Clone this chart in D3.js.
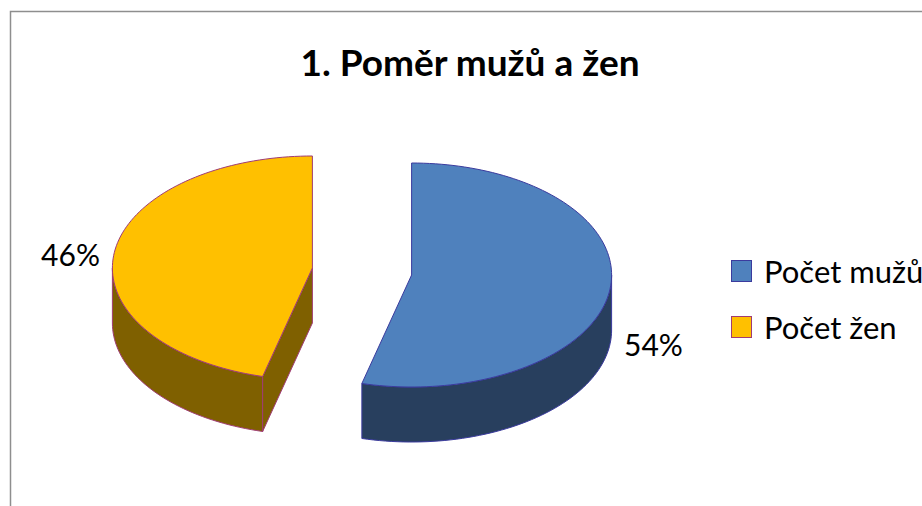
<!DOCTYPE html>
<html lang="cs">
<head>
<meta charset="UTF-8">
<title>Poměr mužů a žen</title>
<script src="https://d3js.org/d3.v7.min.js"></script>
<style>
  body { margin: 0; background: #fff; }
  svg { display: block; font-family: Lato, "Open Sans", sans-serif; }
</style>
</head>
<body>
<svg width="922" height="506"></svg>
<script>
const categories = ["Počet mužů", "Počet žen"];
const values = [54, 46];
const labels = ["54%", "46%"];

const width = 922, height = 506;
const cx = 362, cy = 271.5;   // centre of the (unexploded) pie top
const rx = 200, ry = 112;     // ellipse radii of the tilted pie
const depth = 55;             // thickness of the pie
const explode = 50;

const topColor = d3.scaleOrdinal(categories, ["#4f81bd", "#ffc000"]);
const sideColor = d3.scaleOrdinal(categories, ["#283f5e", "#7f6000"]);
const edgeColor = d3.scaleOrdinal(categories, ["#3b3b9e", "#a03c74"]);

const svg = d3.select("svg");

// chart frame (continues off the page on right / bottom)
svg.append("rect")
  .attr("x", 10.5).attr("y", 11.5)
  .attr("width", width + 20).attr("height", height + 20)
  .attr("fill", "#fff")
  .attr("stroke", "#8e8e8e")
  .attr("stroke-width", 1.5);

svg.append("text")
  .attr("x", 470).attr("y", 76)
  .attr("text-anchor", "middle")
  .attr("font-weight", "bold")
  .attr("font-size", 37)
  .text("1. Poměr mužů a žen");

const arcs = d3.pie().sort(null).value(d => d)(values);

function offset(d) {
  const m = (d.startAngle + d.endAngle) / 2;
  return { x: explode * Math.sin(m), y: -explode * Math.cos(m) * ry / rx };
}
function pt(a, off, z = 0) {
  return [cx + off.x + rx * Math.sin(a), cy + off.y - ry * Math.cos(a) + z];
}
function sample(a0, a1) {
  const n = Math.max(2, Math.ceil(Math.abs(a1 - a0) / 0.03));
  return d3.range(n + 1).map(i => a0 + (a1 - a0) * i / n);
}
const line = d3.line();

const slices = svg.append("g").selectAll("g")
  .data(arcs)
  .join("g");

slices.each(function (d, i) {
  const g = d3.select(this);
  const cat = categories[i];
  const off = offset(d);
  const c = [cx + off.x, cy + off.y];

  // outer wall, only the front half is visible
  const b0 = Math.max(d.startAngle, Math.PI / 2);
  const b1 = Math.min(d.endAngle, 3 * Math.PI / 2);
  if (b1 > b0) {
    const angs = sample(b0, b1);
    const pts = angs.map(a => pt(a, off))
      .concat(angs.slice().reverse().map(a => pt(a, off, depth)));
    g.append("path")
      .attr("d", line(pts) + "Z")
      .attr("fill", sideColor(cat))
      .attr("stroke", edgeColor(cat))
      .attr("stroke-width", 1);
  }

  // cut faces facing the viewer
  const faces = [];
  if (Math.sin(d.startAngle) < -1e-6) faces.push(d.startAngle);
  if (Math.sin(d.endAngle) > 1e-6) faces.push(d.endAngle);
  faces.forEach(a => {
    const p = pt(a, off);
    const pts = [c, p, [p[0], p[1] + depth], [c[0], c[1] + depth]];
    g.append("path")
      .attr("d", line(pts) + "Z")
      .attr("fill", sideColor(cat))
      .attr("stroke", edgeColor(cat))
      .attr("stroke-width", 1);
  });

  // top face
  const topPts = [c].concat(sample(d.startAngle, d.endAngle).map(a => pt(a, off)));
  g.append("path")
    .attr("d", line(topPts) + "Z")
    .attr("fill", topColor(cat))
    .attr("stroke", edgeColor(cat))
    .attr("stroke-width", 1);

  // percentage label
  const m = (d.startAngle + d.endAngle) / 2;
  const lp = pt(m, off, Math.cos(m) < 0 ? depth : 0);
  const right = Math.sin(m) > 0;
  g.append("text")
    .attr("x", lp[0] + (right ? 14 : -14))
    .attr("y", lp[1] + 12)
    .attr("text-anchor", right ? "start" : "end")
    .attr("font-size", 30)
    .attr("fill", "#000")
    .text(labels[i]);
});

// legend
const legend = svg.append("g")
  .selectAll("g")
  .data(categories)
  .join("g")
  .attr("transform", (d, i) => `translate(731, ${260 + i * 56})`);

legend.append("rect")
  .attr("x", 0.5).attr("y", 0.5)
  .attr("width", 20).attr("height", 21)
  .attr("fill", d => topColor(d))
  .attr("stroke", d => edgeColor(d))
  .attr("stroke-width", 1);

legend.append("text")
  .attr("x", 33).attr("y", 23)
  .attr("font-size", 31)
  .text(d => d);
</script>
</body>
</html>
